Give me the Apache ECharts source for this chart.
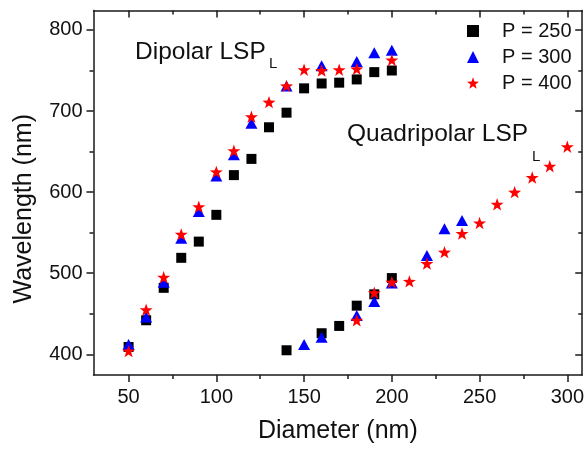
<!DOCTYPE html>
<html>
<head>
<meta charset="utf-8">
<script src="https://cdn.jsdelivr.net/npm/echarts@6/dist/echarts.min.js"></script>
<style>html,body{margin:0;padding:0;background:#fff}#c{width:587px;height:449px}</style>
</head>
<body>
<div id="c"></div>
<script>
// ---- data ----
const seriesNames = ['P = 250', 'P = 300', 'P = 400'];
// P = 250
const diam250 = [50,60,70,80,90,100,110,120,130,140,150,160,170,180,190,200, 140,160,170,180,190,200];
const wl250   = [409,442,482,519,539,572,621,641,680,698,728,734,735,739,748,750, 405,426,435,460,474,494];
// P = 300
const diam300 = [50,60,70,80,90,100,110,120,140,160,180,190,200, 150,160,180,190,200,220,230,240];
const wl300   = [412,446,489,543,576,620,646,685,731,756,761,772,775, 412,421,448,465,488,522,555,565];
// P = 400
const diam400 = [50,60,70,80,90,100,110,120,130,140,150,160,170,180,200, 180,190,200,210,220,230,240,250,260,270,280,290,300];
const wl400   = [404,455,495,548,582,625,651,693,711,731,751,750,751,752,763, 442,476,489,490,512,526,549,562,585,600,618,632,656];
// ticks
const xTicks = [50,100,150,200,250,300];
const xMinor = [75,125,175,225,275];
const yTicks = [400,500,600,700,800];
const yMinor = [450,550,650,750];

const FONT = 'Liberation Sans, Arial, Helvetica, sans-serif';
const AX = '#1a1a1a';
const starPath = 'path://M0,-10 L2.35,-3.24 L9.51,-3.09 L3.8,1.24 L5.88,8.09 L0,4 L-5.88,8.09 L-3.8,1.24 L-9.51,-3.09 L-2.35,-3.24 Z';

function pairs(xs, ys){ return xs.map((x,i)=>[x, ys[i]]); }

const XMIN = 30, XMAX = 308.5, YMIN = 374.5, YMAX = 824;

function xAx(pos, vals, len, inside, showLine, label, name){
  return {
    type:'value', min:XMIN, max:XMAX, position:pos,
    axisLine:{show:showLine, onZero:false, lineStyle:{color:AX, width:1.5}},
    axisTick:{show:true, customValues:vals, inside:inside, length:len, lineStyle:{color:AX, width:1.5}},
    axisLabel: label ? {show:true, customValues:vals, fontSize:20, color:'#111', fontFamily:FONT, margin:12} : {show:false},
    splitLine:{show:false},
    name: name || '', nameLocation:'middle', nameGap:44,
    nameTextStyle:{fontSize:25, color:'#111', fontFamily:FONT}
  };
}
function yAx(pos, vals, len, inside, showLine, label, name){
  return {
    type:'value', min:YMIN, max:YMAX, position:pos,
    axisLine:{show:showLine, onZero:false, lineStyle:{color:AX, width:1.5}},
    axisTick:{show:true, customValues:vals, inside:inside, length:len, lineStyle:{color:AX, width:1.5}},
    axisLabel: label ? {show:true, customValues:vals, fontSize:20, color:'#111', fontFamily:FONT, margin:11} : {show:false},
    splitLine:{show:false},
    name: name || '', nameLocation:'middle', nameGap:57,
    nameTextStyle:{fontSize:25, color:'#111', fontFamily:FONT, padding:[0,32,0,0]}
  };
}

const chart = echarts.init(document.getElementById('c'), null, {renderer:'canvas'});
chart.setOption({
  animation:false,
  backgroundColor:'#fff',
  grid:{left:93.5, right:3, top:10.5, bottom:74, containLabel:false},
  xAxis:[
    xAx('bottom', xTicks, 7, false, true, true, 'Diameter (nm)'),
    xAx('bottom', xMinor, 4, false, false, false),
    xAx('top', xTicks, 7, true, true, false),
    xAx('top', xMinor, 4, true, false, false)
  ],
  yAxis:[
    yAx('left', yTicks, 7, false, true, true, 'Wavelength (nm)'),
    yAx('left', yMinor, 4, false, false, false),
    yAx('right', yTicks, 7, true, true, false),
    yAx('right', yMinor, 4, true, false, false)
  ],
  legend:{
    orient:'vertical', left:462, top:16, itemGap:6, itemWidth:12, itemHeight:12,
    textStyle:{fontSize:20, color:'#111', fontFamily:FONT, padding:[0,0,0,18]},
    data:seriesNames
  },
  series:[
    {name:seriesNames[0], type:'scatter', symbol:'rect', symbolSize:10, itemStyle:{color:'#000', opacity:1}, data:pairs(diam250, wl250), z:2},
    {name:seriesNames[1], type:'scatter', symbol:'triangle', symbolSize:[12,11], itemStyle:{color:'#0000ff', opacity:1}, data:pairs(diam300, wl300), z:3},
    {name:seriesNames[2], type:'scatter', symbol:starPath, symbolKeepAspect:true, symbolSize:13, itemStyle:{color:'#ff0000', opacity:1}, data:pairs(diam400, wl400), z:4}
  ],
  graphic:[
    {type:'text', style:{x:135, y:52, text:'Dipolar LSP', font:'24.5px '+FONT, fill:'#111', verticalAlign:'middle', textVerticalAlign:'middle'}},
    {type:'text', style:{x:269, y:63.5, text:'L', font:'15px '+FONT, fill:'#111', verticalAlign:'middle', textVerticalAlign:'middle'}},
    {type:'text', style:{x:347, y:134.6, text:'Quadripolar LSP', font:'24.5px '+FONT, fill:'#111', verticalAlign:'middle', textVerticalAlign:'middle'}},
    {type:'text', style:{x:532, y:156.5, text:'L', font:'15px '+FONT, fill:'#111', verticalAlign:'middle', textVerticalAlign:'middle'}}
  ]
});
</script>
</body>
</html>
